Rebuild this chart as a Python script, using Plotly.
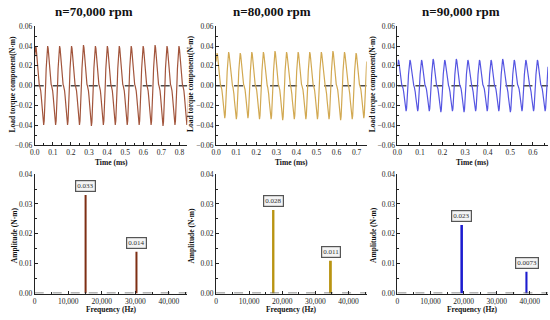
import plotly.graph_objects as go

# ---------------- data ----------------
titles = ["n=70,000 rpm", "n=80,000 rpm", "n=90,000 rpm"]
rev_time_ms = [0.857, 0.750, 0.667]          # one revolution shown (13 cycles)
time_axis_max = [0.843, 0.750, 0.667]
n_cycles = 13
# one cycle of the load-torque waveform, normalised to its peak
cycle_shape = [0.737, 0.934, 1.000, 0.941, 0.788, 0.586, 0.382, 0.214, 0.099, 0.033,
               -0.005, -0.047, -0.124, -0.253, -0.434, -0.642, -0.836, -0.967, -0.996,
               -0.895, -0.664, -0.333, 0.052, 0.428]
peaks_70 = [0.040, 0.040, 0.040, 0.040, 0.041, 0.040, 0.040, 0.040, 0.040, 0.040, 0.041, 0.040, 0.040]
peaks_80 = [0.033, 0.034, 0.033, 0.034, 0.034, 0.035, 0.034, 0.034, 0.034, 0.034, 0.035, 0.034, 0.033]
peaks_90 = [0.026, 0.026, 0.026, 0.027, 0.026, 0.027, 0.026, 0.026, 0.026, 0.027, 0.026, 0.026, 0.026]

freq_70 = [15167, 30333]
amp_70 = [0.033, 0.014]
freq_80 = [17333, 34667]
amp_80 = [0.028, 0.011]
freq_90 = [19500, 39000]
amp_90 = [0.023, 0.0073]
amp_labels = [["0.033", "0.014"], ["0.028", "0.011"], ["0.023", "0.0073"]]

line_colors = ["#a2553c", "#d2a952", "#5656e2"]
bar_colors = ["#7e2f14", "#b99412", "#1c1ccf"]

peaks_all = [peaks_70, peaks_80, peaks_90]
freqs_all = [freq_70, freq_80, freq_90]
amps_all = [amp_70, amp_80, amp_90]

# ---------------- layout geometry ----------------
W, H = 550, 320
col_px = [(30, 184), (213, 365), (396, 548)]
top_px = (23, 145)
bot_px = (175, 298)
ylab_x = [8, 187, 371]
title_cx = [90, 269, 460]

def px_x(p):
    return p / W

def px_y(p):
    return 1 - p / H

FONT = "Liberation Serif"
tickfont = dict(family=FONT, size=7.5, color="#222")

fig = go.Figure()
layout = dict(width=W, height=H, margin=dict(l=0, r=0, t=0, b=0),
              paper_bgcolor="white", plot_bgcolor="white", showlegend=False,
              annotations=[])

def axis_common():
    return dict(showline=True, linecolor="#222", linewidth=1, showgrid=False, zeroline=False,
                ticks="inside", ticklen=3, tickcolor="#222", tickfont=tickfont,
                minor=dict(ticks="inside", ticklen=2, tickcolor="#222"))

for i in range(3):
    n_top = 2 * i + 1
    n_bot = 2 * i + 2
    xt = "x" if n_top == 1 else f"x{n_top}"
    yt = "y" if n_top == 1 else f"y{n_top}"
    xb = f"x{n_bot}"
    yb = f"y{n_bot}"

    # ----- time-domain subplot -----
    P = rev_time_ms[i] / n_cycles
    ts, ys = [], []
    for c, pk in enumerate(peaks_all[i]):
        for k, s in enumerate(cycle_shape):
            ts.append((c + k / len(cycle_shape)) * P)
            ys.append(s * pk)
    ts.append(n_cycles * P)
    ys.append(cycle_shape[0] * peaks_all[i][-1])

    fig.add_trace(go.Scatter(x=[0, time_axis_max[i]], y=[0, 0], mode="lines",
                             line=dict(color="#4a4a4a", width=1.5, dash="dash"),
                             xaxis=xt, yaxis=yt, hoverinfo="skip"))
    fig.add_trace(go.Scatter(x=ts, y=ys, mode="lines",
                             line=dict(color=line_colors[i], width=1.2),
                             xaxis=xt, yaxis=yt))

    ax = axis_common()
    ax.update(domain=[px_x(col_px[i][0]), px_x(col_px[i][1])], anchor=yt,
              range=[0, time_axis_max[i]], dtick=0.1, tick0=0, tickformat=".1f")
    ax["minor"]["dtick"] = 0.05
    ay = axis_common()
    ay.update(domain=[px_y(top_px[1]), px_y(top_px[0])], anchor=xt,
              range=[-0.06, 0.06], dtick=0.02, tick0=0, tickformat=".2f")
    ay["minor"]["dtick"] = 0.01
    layout["xaxis" if n_top == 1 else f"xaxis{n_top}"] = ax
    layout["yaxis" if n_top == 1 else f"yaxis{n_top}"] = ay

    # ----- spectrum subplot -----
    fig.add_trace(go.Scatter(x=[0, 45500], y=[0.0002, 0.0002], mode="lines",
                             line=dict(color="#666", width=1, dash="dash"),
                             xaxis=xb, yaxis=yb, hoverinfo="skip"))
    fig.add_trace(go.Bar(x=freqs_all[i], y=amps_all[i], width=600,
                         marker=dict(color=bar_colors[i], line=dict(width=0)),
                         xaxis=xb, yaxis=yb))
    bx = axis_common()
    bx.update(domain=[px_x(col_px[i][0]), px_x(col_px[i][1])], anchor=yb,
              range=[0, 45500], dtick=10000, tick0=0, tickformat=",d")
    bx["minor"]["dtick"] = 5000
    by = axis_common()
    by.update(domain=[px_y(bot_px[1]), px_y(bot_px[0])], anchor=xb,
              range=[0, 0.04], dtick=0.01, tick0=0, tickformat=".2f")
    by["minor"]["dtick"] = 0.005
    layout[f"xaxis{n_bot}"] = bx
    layout[f"yaxis{n_bot}"] = by

    # value boxes on the bars
    for f, a, lab in zip(freqs_all[i], amps_all[i], amp_labels[i]):
        layout["annotations"].append(dict(
            x=f, y=a, xref=xb, yref=yb, text=lab, showarrow=False,
            xanchor="center", yanchor="bottom", yshift=3,
            font=dict(family=FONT, size=7, color="#333"),
            bgcolor="#f4f4f4", borderpad=1, borderwidth=1.2, bordercolor="#555"))

    # titles / axis titles
    cx = (col_px[i][0] + col_px[i][1]) / 2
    layout["annotations"] += [
        dict(x=px_x(title_cx[i]), y=px_y(8), xref="paper", yref="paper", text=f"<b>{titles[i]}</b>",
             showarrow=False, xanchor="center", yanchor="middle",
             font=dict(family=FONT, size=13, color="#111")),
        dict(x=px_x(ylab_x[i]), y=px_y(82), xref="paper", yref="paper",
             text="<b>Load torque component(N·m)</b>", textangle=-90, showarrow=False,
             xanchor="center", yanchor="middle", font=dict(family=FONT, size=7.5, color="#111")),
        dict(x=px_x(cx), y=px_y(163), xref="paper", yref="paper", text="<b>Time (ms)</b>",
             showarrow=False, xanchor="center", yanchor="middle",
             font=dict(family=FONT, size=7.5, color="#111")),
        dict(x=px_x(ylab_x[i] + 1), y=px_y(238), xref="paper", yref="paper",
             text="<b>Amplitude (N·m)</b>", textangle=-90, showarrow=False,
             xanchor="center", yanchor="middle", font=dict(family=FONT, size=7.5, color="#111")),
        dict(x=px_x(cx), y=px_y(314), xref="paper", yref="paper", text="<b>Frequency (Hz)</b>",
             showarrow=False, xanchor="center", yanchor="middle",
             font=dict(family=FONT, size=7.5, color="#111")),
    ]

fig.update_layout(**layout)
fig.write_html("out.html", config={"displayModeBar": False},
               post_script="document.body.style.margin='0';document.body.style.padding='0';"
                           "document.body.style.overflow='hidden';")
